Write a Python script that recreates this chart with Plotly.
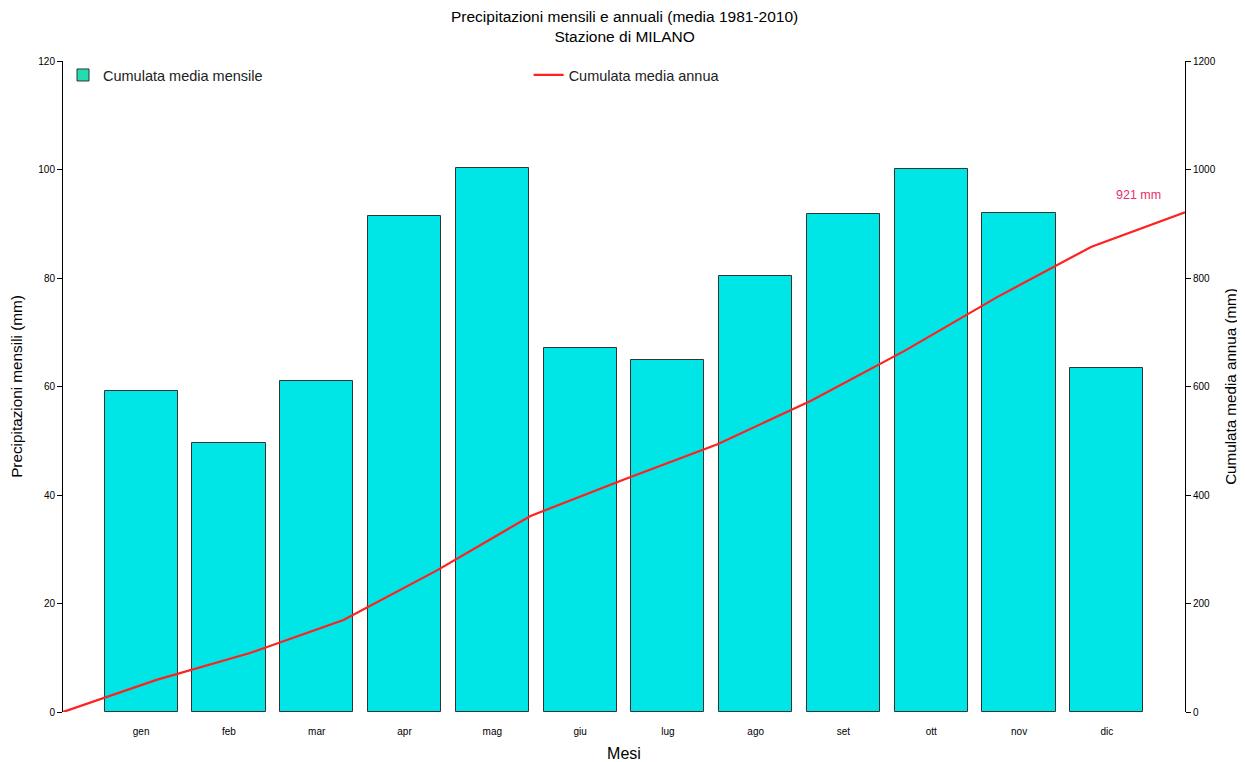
import numpy as np
import plotly.graph_objects as go

months = ["gen", "feb", "mar", "apr", "mag", "giu", "lug", "ago", "set", "ott", "nov", "dic"]
monthly_mm = [59.2, 49.5, 61.0, 91.4, 100.3, 67.1, 64.9, 80.4, 91.8, 100.1, 92.0, 63.4]
left_ticks = [0, 20, 40, 60, 80, 100, 120]
right_ticks = [0, 200, 400, 600, 800, 1000, 1200]

cumulative = [0.0] + list(np.cumsum(monthly_mm))
total = cumulative[-1]

bar_pos = [0.7 + 1.2 * i for i in range(len(months))]
FONT = "Liberation Sans, Arial, Helvetica, sans-serif"

fig = go.Figure()
fig.add_trace(go.Bar(x=bar_pos, y=monthly_mm, width=1.0,
                     marker=dict(color="#00E6E6", line=dict(color="#333333", width=1)),
                     showlegend=False, hoverinfo="y"))
# legend entry for bars
fig.add_trace(go.Bar(x=[None], y=[None], name="Cumulata media mensile",
                     marker=dict(color="#22DDB0", line=dict(color="#333333", width=1)),
                     legend="legend"))
fig.add_trace(go.Scatter(x=list(range(len(cumulative))), y=cumulative, mode="lines",
                         line=dict(color="#FF2020", width=2.2),
                         name="Cumulata media annua", xaxis="x2", yaxis="y2",
                         legend="legend2"))

fig.add_annotation(x=11.5, y=953, xref="x2", yref="y2",
                   text=f"{round(total)} mm", showarrow=False,
                   font=dict(family=FONT, size=12.5, color="#E8306A"))

fig.add_annotation(x=0.5, y=1, xref="paper", yref="paper", xanchor="center", yanchor="middle",
                   yshift=35, showarrow=False,
                   text="Precipitazioni mensili e annuali (media 1981-2010)<br>Stazione di MILANO",
                   font=dict(family=FONT, size=15.5, color="#000000"))

fig.update_layout(
    width=1237, height=754,
    margin=dict(l=55, r=60, t=53, b=50, autoexpand=False),
    paper_bgcolor="white", plot_bgcolor="white",
    font=dict(family=FONT, color="#000000"),
    bargap=0,
    xaxis=dict(range=[-0.368, 14.968], tickmode="array", tickvals=bar_pos, ticktext=months,
               showgrid=False, zeroline=False, showline=False, ticks="",
               tickfont=dict(size=10), ticklabelstandoff=12,
               title=dict(text="Mesi", font=dict(size=16), standoff=13)),
    xaxis2=dict(range=[0, 12], overlaying="x", visible=False),
    yaxis=dict(range=[0, 120], tickvals=left_ticks, showgrid=False, zeroline=False,
               showline=True, linecolor="#000000", linewidth=1,
               ticks="outside", ticklen=5, tickcolor="#000000", tickfont=dict(size=10),
               title=dict(text="Precipitazioni mensili (mm)", font=dict(size=15.3), standoff=12)),
    yaxis2=dict(range=[0, 1200], tickvals=right_ticks, overlaying="y", side="right",
                showgrid=False, zeroline=False, showline=True, linecolor="#000000", linewidth=1,
                ticks="outside", ticklen=5, tickcolor="#000000", tickfont=dict(size=10),
                title=dict(text="Cumulata media annua (mm)", font=dict(size=15.2), standoff=10)),
    legend=dict(x=0.0, y=1.003, xanchor="left", yanchor="top", bgcolor="rgba(0,0,0,0)",
                font=dict(size=14.5, color="#222222")),
    legend2=dict(x=0.415, y=1.003, xanchor="left", yanchor="top", bgcolor="rgba(0,0,0,0)",
                 font=dict(size=14.5, color="#222222")),
)

fig.write_html("out.html")
